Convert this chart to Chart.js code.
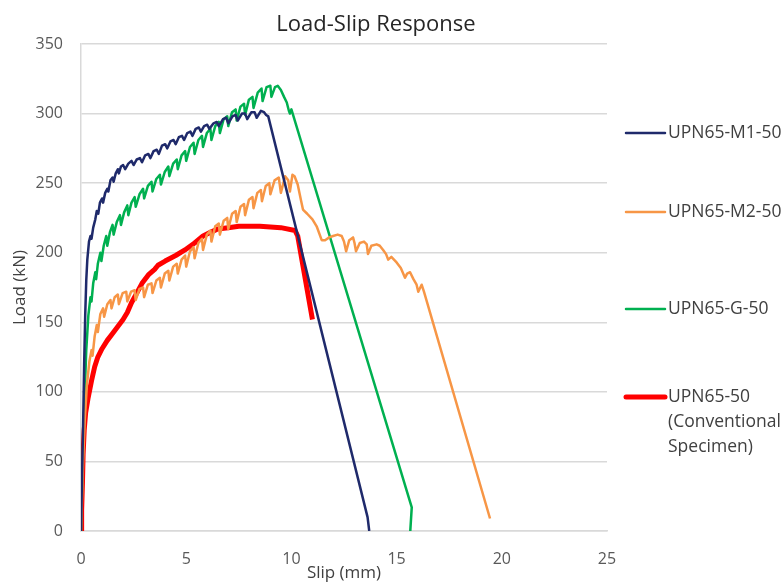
<!DOCTYPE html>
<html lang="en">
<head>
<meta charset="UTF-8" />
<title>Load-Slip Response</title>
<style>
  body { margin: 0; background: #fff; }
  #wrap { width: 784px; height: 582px; }
</style>
</head>
<body>
<div id="wrap"><canvas id="chart_slip" width="784" height="582"></canvas></div>

<script src="https://cdn.jsdelivr.net/npm/chart.js"></script>
<script>
// series names (legend)
const seriesNames = ["UPN65-M1-50", "UPN65-M2-50", "UPN65-G-50", ["UPN65-50", "(Conventional", "Specimen)"]];

// axis ticks
const slipTicks = [0, 5, 10, 15, 20, 25];
const loadTicks = [0, 50, 100, 150, 200, 250, 300, 350];

// UPN65-M1-50 : slip (mm) / load (kN)
const m1Slip = [0, 0.05, 0.1, 0.15, 0.2, 0.25, 0.3, 0.38, 0.45, 0.5, 0.58, 0.68, 0.75, 0.82, 0.9, 1.0, 1.05, 1.15, 1.25, 1.3,
  1.4, 1.5, 1.55, 1.65, 1.75, 1.8, 1.9, 2.0, 2.1, 2.25, 2.4, 2.5, 2.65, 2.8, 2.9, 3.05, 3.2, 3.3, 3.45, 3.6,
  3.7, 3.85, 4.0, 4.1, 4.25, 4.4, 4.5, 4.65, 4.8, 4.9, 5.05, 5.2, 5.3, 5.45, 5.6, 5.7, 5.85, 6.0, 6.1, 6.3,
  6.45, 6.55, 6.75, 6.9, 7.0, 7.2, 7.35, 7.45, 7.65, 7.8, 7.9, 8.1, 8.25, 8.35, 8.55, 8.7, 8.8, 8.9, 13.62, 13.7];
const m1Load = [0, 40, 75, 120, 155, 180, 195, 208, 212, 210, 218, 224, 230, 228, 236, 239, 236, 243, 246, 244,
  252, 254, 251, 257, 260, 257, 262, 263, 260, 264, 266, 263, 267, 268, 265, 270, 271, 268, 273, 274,
  271, 277, 278, 275, 280, 281, 278, 283, 284, 281, 286, 287, 284, 289, 290, 287, 291, 292, 289, 293,
  294, 291, 296, 297, 293, 298, 299, 295, 300, 300, 296, 301, 301, 297, 302, 301, 299, 298, 10, 0];

// UPN65-M2-50
const m2Slip = [0, 0.05, 0.1, 0.18, 0.28, 0.4, 0.5, 0.55, 0.65, 0.75, 0.8, 0.92, 1.05, 1.1, 1.25, 1.4, 1.45, 1.6, 1.75, 1.8,
  1.98, 2.15, 2.2, 2.38, 2.55, 2.6, 2.78, 2.95, 3.0, 3.18, 3.35, 3.4, 3.58, 3.75, 3.8, 3.98, 4.15, 4.2, 4.38, 4.55,
  4.6, 4.78, 4.95, 5.0, 5.18, 5.35, 5.4, 5.58, 5.75, 5.8, 5.98, 6.15, 6.2, 6.38, 6.55, 6.6, 6.78, 6.95, 7.0, 7.18,
  7.35, 7.4, 7.58, 7.75, 7.8, 7.98, 8.15, 8.2, 8.38, 8.55, 8.6, 8.78, 8.95, 9.0, 9.2, 9.4, 9.5, 9.7, 9.85, 9.93,
  10.05, 10.15, 10.3, 10.45, 10.55, 10.75, 11.0, 11.2, 11.44, 11.6, 11.8, 11.98, 12.2, 12.39, 12.5, 12.6, 12.75, 12.93, 13.0, 13.07,
  13.25, 13.45, 13.58, 13.64, 13.8, 14.05, 14.2, 14.36, 14.5, 14.6, 14.75, 15.0, 15.2, 15.4, 15.5, 15.64, 15.8, 15.95, 16.03, 16.19,
  16.3, 19.44];
const m2Load = [0, 25, 50, 80, 105, 122, 130, 126, 140, 148, 143, 156, 160, 154, 163, 166, 160, 168, 170, 163,
  171, 172, 165, 172, 173, 166, 174, 175, 168, 177, 178, 171, 180, 182, 175, 185, 187, 180, 190, 192,
  185, 195, 198, 190, 201, 204, 196, 207, 210, 202, 213, 216, 208, 219, 221, 213, 223, 225, 217, 228,
  230, 222, 233, 235, 227, 238, 240, 232, 243, 245, 237, 248, 250, 242, 252, 254, 243, 255, 252, 244,
  256, 255, 249, 238, 231, 228, 224, 219, 209, 209, 211, 212, 213, 212, 208, 201, 209, 211, 207, 201,
  207, 208, 206, 199, 205, 206, 205, 202, 199, 195, 197, 193, 189, 182, 185, 186, 181, 177, 172, 177,
  172, 9];

// UPN65-G-50
const gSlip = [0, 0.05, 0.1, 0.18, 0.25, 0.35, 0.45, 0.5, 0.58, 0.68, 0.72, 0.8, 0.92, 0.97, 1.08, 1.2, 1.25, 1.38, 1.5, 1.55,
  1.7, 1.85, 1.9, 2.05, 2.2, 2.25, 2.4, 2.55, 2.6, 2.78, 2.95, 3.0, 3.18, 3.35, 3.4, 3.58, 3.75, 3.8, 3.98, 4.15,
  4.2, 4.38, 4.55, 4.6, 4.78, 4.95, 5.0, 5.18, 5.35, 5.4, 5.58, 5.75, 5.8, 5.98, 6.15, 6.2, 6.38, 6.55, 6.6, 6.78,
  6.95, 7.0, 7.18, 7.35, 7.4, 7.58, 7.75, 7.8, 7.98, 8.15, 8.2, 8.4, 8.58, 8.63, 8.82, 9.0, 9.05, 9.22, 9.35, 9.5,
  9.65, 9.78, 9.88, 9.93, 10.0, 15.72, 15.65];
const gLoad = [0, 30, 60, 100, 130, 155, 168, 165, 178, 186, 181, 192, 200, 194, 205, 212, 205, 215, 220, 213,
  222, 227, 220, 229, 234, 227, 236, 240, 233, 242, 246, 239, 248, 251, 244, 253, 256, 249, 258, 262,
  255, 264, 267, 260, 270, 273, 266, 276, 279, 271, 281, 284, 276, 286, 289, 281, 291, 294, 286, 296,
  298, 291, 301, 303, 295, 305, 307, 299, 310, 312, 304, 315, 318, 309, 319, 320, 312, 319, 320, 317,
  312, 308, 302, 300, 303, 17, 0];

// UPN65-50 (Conventional Specimen)
const convSlip = [0, 0.03, 0.07, 0.1, 0.15, 0.22, 0.33, 0.5, 0.65, 0.8, 1.0, 1.25, 1.5, 1.75, 2.0, 2.2, 2.4, 2.65, 2.9, 3.2,
  3.5, 3.66, 4.0, 4.5, 4.94, 5.4, 5.8, 6.2, 6.5, 7.0, 7.5, 8.0, 8.5, 9.0, 9.5, 10.17, 10.3, 11.0];
const convLoad = [0, 15, 35, 55, 72, 85, 95, 108, 118, 125, 131, 137, 142, 147, 152, 157, 164, 171, 178, 184,
  188, 191, 194, 198, 202, 207, 212, 215, 217, 218, 219, 219, 219, 218.5, 218, 216, 212, 152];

const colors = ["#1F2A6B", "#F79646", "#00B050", "#FF0000"];
const widths = [2.5, 2.5, 2.5, 5];

function pts(xs, ys) {
  return xs.map(function (x, i) { return { x: x, y: ys[i] }; });
}

const allX = [m1Slip, m2Slip, gSlip, convSlip];
const allY = [m1Load, m2Load, gLoad, convLoad];

const datasets = seriesNames.map(function (name, i) {
  return {
    label: name,
    data: pts(allX[i], allY[i]),
    borderColor: colors[i],
    backgroundColor: colors[i],
    borderWidth: widths[i],
    showLine: true,
    pointRadius: 0,
    tension: 0,
    borderJoinStyle: "round",
  };
});

// title + legend drawn by hand (legend has a multi-line label)
const legendY = [133, 212, 309, 397];
const legend_plugin = {
  id: "rightLegend",
  afterDraw: function (chart) {
    const ctx = chart.ctx;
    ctx.save();
    ctx.fillStyle = "#262626";
    ctx.font = "22px 'Open Sans'";
    ctx.textAlign = "center";
    ctx.textBaseline = "middle";
    ctx.fillText("Load-Slip Response", 376, 25);

    ctx.font = "17.5px 'Open Sans'";
    ctx.textAlign = "left";
    chart.data.datasets.forEach(function (ds, i) {
      const y = legendY[i];
      ctx.strokeStyle = ds.borderColor;
      ctx.lineWidth = ds.borderWidth;
      ctx.lineCap = "round";
      ctx.beginPath();
      ctx.moveTo(626, y);
      ctx.lineTo(665, y);
      ctx.stroke();
      ctx.fillStyle = "#404040";
      const lines = Array.isArray(ds.label) ? ds.label : [ds.label];
      lines.forEach(function (t, k) {
        ctx.fillText(t, 668, y + k * 25);
      });
    });
    ctx.restore();
  },
};

const config_slip = {
  type: "scatter",
  data: { datasets: datasets },
  options: {
    responsive: false,
    animation: false,
    layout: { padding: { left: 0, right: 177, top: 44, bottom: 0 } },
    plugins: {
      legend: { display: false },
      tooltip: { enabled: false },
      title: { display: false },
    },
    scales: {
      x: {
        type: "linear",
        min: 0,
        max: 25,
        afterBuildTicks: function (s) { s.ticks = slipTicks.map(function (v) { return { value: v }; }); },
        afterFit: function (s) { s.height = 51; },
        grid: { display: false },
        border: { display: true, color: "#D9D9D9", width: 1.5 },
        ticks: { color: "#595959", font: { family: "'Open Sans'", size: 16 }, padding: 11, maxRotation: 0 },
        title: {
          display: true,
          text: "Slip (mm)",
          color: "#404040",
          font: { family: "'Open Sans'", size: 17 },
          padding: { top: 0, bottom: -1 },
        },
      },
      y: {
        type: "linear",
        min: 0,
        max: 350,
        afterBuildTicks: function (s) { s.ticks = loadTicks.map(function (v) { return { value: v }; }); },
        afterFit: function (s) { s.width = 81; },
        grid: { color: "#D9D9D9", lineWidth: 1.5, drawTicks: false },
        border: { display: true, color: "#D9D9D9", width: 1.5 },
        ticks: { color: "#595959", font: { family: "'Open Sans'", size: 16 }, padding: 18 },
        title: {
          display: true,
          text: "Load (kN)",
          color: "#404040",
          font: { family: "'Open Sans'", size: 17 },
          padding: { top: 10, bottom: 0 },
        },
      },
    },
  },
  plugins: [legend_plugin],
};

const grafico_slip = new Chart(document.getElementById("chart_slip"), config_slip);
</script>
</body>
</html>
